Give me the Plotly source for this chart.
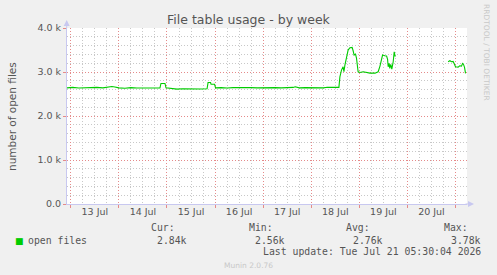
import plotly.graph_objects as go
from datetime import datetime, timedelta

# ---- data ----
times = [
    "2026-07-12 22:00", "2026-07-13 01:00", "2026-07-13 04:00", "2026-07-13 07:00",
    "2026-07-13 10:00", "2026-07-13 13:00", "2026-07-13 16:00", "2026-07-13 19:00",
    "2026-07-13 20:30", "2026-07-13 22:00", "2026-07-14 00:00", "2026-07-14 03:00",
    "2026-07-14 06:00", "2026-07-14 09:00", "2026-07-14 12:00", "2026-07-14 15:00",
    "2026-07-14 18:00", "2026-07-14 20:30", "2026-07-14 21:00", "2026-07-14 23:00",
    "2026-07-14 23:30", "2026-07-15 02:00", "2026-07-15 05:00", "2026-07-15 08:00",
    "2026-07-15 11:00", "2026-07-15 14:00", "2026-07-15 17:00", "2026-07-15 20:00",
    "2026-07-15 20:30", "2026-07-15 21:45", "2026-07-15 22:00", "2026-07-15 23:45",
    "2026-07-16 00:15", "2026-07-16 03:00", "2026-07-16 06:00", "2026-07-16 09:00",
    "2026-07-16 12:00", "2026-07-16 15:00", "2026-07-16 18:00", "2026-07-16 21:00",
    "2026-07-17 00:00", "2026-07-17 03:00", "2026-07-17 06:00", "2026-07-17 09:00",
    "2026-07-17 12:00", "2026-07-17 15:00", "2026-07-17 16:00", "2026-07-17 18:00",
    "2026-07-17 21:00", "2026-07-18 00:00", "2026-07-18 03:00", "2026-07-18 06:00",
    "2026-07-18 08:00", "2026-07-18 11:00", "2026-07-18 13:48",
    "2026-07-18 14:18", "2026-07-18 15:06", "2026-07-18 15:54", "2026-07-18 16:18",
    "2026-07-18 16:48", "2026-07-18 17:36", "2026-07-18 18:24", "2026-07-18 19:18",
    "2026-07-18 20:24", "2026-07-18 20:54", "2026-07-18 21:24", "2026-07-18 22:06",
    "2026-07-18 22:36", "2026-07-18 23:24", "2026-07-19 00:18", "2026-07-19 01:54",
    "2026-07-19 03:36", "2026-07-19 05:18", "2026-07-19 07:48", "2026-07-19 08:36",
    "2026-07-19 09:24", "2026-07-19 10:18", "2026-07-19 11:06", "2026-07-19 11:36",
    "2026-07-19 12:42", "2026-07-19 13:36", "2026-07-19 14:06", "2026-07-19 14:24",
    "2026-07-19 14:54", "2026-07-19 15:12", "2026-07-19 15:42", "2026-07-19 16:12",
    "2026-07-19 16:54", "2026-07-19 17:24", "2026-07-19 17:54",
    "2026-07-20 06:00",
    "2026-07-20 20:18", "2026-07-20 21:12", "2026-07-20 22:00", "2026-07-20 22:48",
    "2026-07-20 23:18", "2026-07-21 00:00", "2026-07-21 01:18", "2026-07-21 02:06",
    "2026-07-21 03:00", "2026-07-21 03:30", "2026-07-21 04:00", "2026-07-21 04:30",
    "2026-07-21 05:00",
]
open_files = [
    2640, 2650, 2635, 2645,
    2640, 2650, 2640, 2655,
    2670, 2660, 2640, 2630,
    2645, 2635, 2640, 2635,
    2640, 2640, 2740, 2740,
    2640, 2625, 2610, 2620,
    2615, 2620, 2615, 2620,
    2760, 2760, 2720, 2720,
    2640, 2645, 2635, 2645,
    2650, 2640, 2645, 2640,
    2645, 2635, 2645, 2640,
    2640, 2650, 2665, 2640,
    2645, 2640, 2645, 2640,
    2655, 2660, 2650,
    2890, 3043, 3119, 3005,
    3157, 3309, 3499, 3552,
    3559, 3483, 3385, 3407,
    3309, 3005, 2990, 3005,
    2982, 2974, 2974, 2997,
    3005, 3134, 3271, 3385,
    3369, 3362, 3286, 3119,
    3195, 3081, 3172, 3066,
    3233, 3460, 3347,
    None,
    3233, 3256, 3233, 3241,
    3195, 3119, 3112, 3142,
    3134, 3195, 3172, 3104,
    2967,
]

day_ticks = ["2026-07-13 12:00", "2026-07-14 12:00", "2026-07-15 12:00", "2026-07-16 12:00",
             "2026-07-17 12:00", "2026-07-18 12:00", "2026-07-19 12:00", "2026-07-20 12:00"]
day_labels = ["13 Jul", "14 Jul", "15 Jul", "16 Jul", "17 Jul", "18 Jul", "19 Jul", "20 Jul"]
y_ticks = [0, 1000, 2000, 3000, 4000]
y_labels = ["0.0", "1.0 k", "2.0 k", "3.0 k", "4.0 k"]

series_name = "open files"
stats_head = ["Cur:", "Min:", "Avg:", "Max:"]
stats_vals = ["2.84k", "2.56k", "2.76k", "3.78k"]
last_update = "Last update: Tue Jul 21 05:30:04 2026"

# ---- layout geometry ----
W, H = 497, 275
L, R, T, B = 67, 30, 28, 71
PW, PH = W - L - R, H - T - B
x_range = ["2026-07-12 22:06", "2026-07-21 05:44"]

t0 = datetime(2026, 7, 12, 0, 0)
major_x = [(t0 + timedelta(days=d)).strftime("%Y-%m-%d %H:%M") for d in range(0, 11)]
minor_x = [(t0 + timedelta(hours=h)).strftime("%Y-%m-%d %H:%M")
           for h in range(0, 240, 6) if h % 24 != 0]
minor_y = [v for v in range(0, 4001, 200) if v % 1000 != 0]

def px(x):
    return (x - L) / PW

def py(y):
    return (H - B - y) / PH

GREEN = "#00CC00"
TXT = "#555555"
MGRID = "#E58A8A"
GRID = "#C8C8C8"
AXIS = "#C8C8F0"
DASH = "1px,2px"

fig = go.Figure()
fig.add_trace(go.Scatter(
    x=times, y=open_files, mode="lines", name=series_name,
    line=dict(color=GREEN, width=1.1), connectgaps=False,
    xaxis="x", yaxis="y", showlegend=False,
))
fig.add_trace(go.Scatter(x=x_range, y=[None, None], mode="lines", xaxis="x2", yaxis="y",
                         showlegend=False, hoverinfo="skip"))

fig.update_layout(
    width=W, height=H,
    margin=dict(l=L, r=R, t=T, b=B, pad=0),
    paper_bgcolor="#F0F0F0", plot_bgcolor="#FFFFFF",
    font=dict(family="DejaVu Sans", color=TXT, size=9.5),
    xaxis=dict(
        range=x_range, type="date",
        tickmode="array", tickvals=major_x,
        showticklabels=False,
        showgrid=True, gridcolor=MGRID, griddash=DASH, gridwidth=1,
        ticks="outside", ticklen=3, tickcolor=MGRID,
        showline=True, linecolor=AXIS, linewidth=1,
        zeroline=False,
        minor=dict(tickmode="array", tickvals=minor_x, showgrid=True,
                   gridcolor=GRID, griddash=DASH, gridwidth=1, ticks=""),
    ),
    xaxis2=dict(
        range=x_range, type="date", overlaying="x", side="bottom",
        tickmode="array", tickvals=day_ticks, ticktext=day_labels,
        showgrid=False, ticks="", showline=False, zeroline=False,
        tickfont=dict(family="DejaVu Sans", size=9.5, color=TXT),
    ),
    yaxis=dict(
        range=[0, 4000], tickmode="array", tickvals=y_ticks, ticktext=y_labels,
        showgrid=True, gridcolor=MGRID, griddash=DASH, gridwidth=1,
        ticks="outside", ticklen=3, tickcolor=MGRID,
        showline=True, linecolor=AXIS, linewidth=1, zeroline=False,
        tickfont=dict(family="DejaVu Sans", size=9.5, color=TXT),
        minor=dict(tickmode="array", tickvals=minor_y, showgrid=True, gridcolor=GRID,
                   griddash=DASH, gridwidth=1, ticks=""),
    ),
    showlegend=False,
)

ann = []
ann.append(dict(text="File table usage - by week", xref="paper", yref="paper",
                x=px(248.5), y=py(19), xanchor="center", yanchor="middle", showarrow=False,
                font=dict(family="DejaVu Sans", size=12.5, color=TXT)))
ann.append(dict(text="number of open files", xref="paper", yref="paper",
                x=px(12), y=py(116), xanchor="center", yanchor="middle", textangle=-90,
                showarrow=False, font=dict(family="DejaVu Sans", size=10.5, color=TXT)))
ann.append(dict(text="RRDTOOL / TOBI OETIKER", xref="paper", yref="paper",
                x=px(487), y=py(52), xanchor="center", yanchor="middle", textangle=90,
                showarrow=False, font=dict(family="DejaVu Sans", size=7.5, color="#C8C8C8")))
ann.append(dict(text="", xref="paper", yref="paper", x=px(66.7), y=py(20),
                ax=0, ay=10, showarrow=True, arrowhead=2, arrowsize=1.2, arrowwidth=1,
                arrowcolor=AXIS))
ann.append(dict(text="", xref="paper", yref="paper", x=px(474), y=py(204),
                ax=-10, ay=0, showarrow=True, arrowhead=2, arrowsize=1.2, arrowwidth=1,
                arrowcolor=AXIS))
MONO = "DejaVu Sans Mono"
ann.append(dict(text="■", xref="paper", yref="paper", x=px(13), y=py(240.5),
                xanchor="left", yanchor="middle", showarrow=False,
                font=dict(family="DejaVu Sans", size=9, color=GREEN)))
ann.append(dict(text=series_name, xref="paper", yref="paper", x=px(26), y=py(240),
                xanchor="left", yanchor="middle", showarrow=False,
                font=dict(family=MONO, size=9.8, color=TXT)))
head_right = [177, 275, 372, 470]
val_right = [189, 287, 385, 483]
for h, v, hr, vr in zip(stats_head, stats_vals, head_right, val_right):
    ann.append(dict(text=h, xref="paper", yref="paper", x=px(hr), y=py(228),
                    xanchor="right", yanchor="middle", showarrow=False,
                    font=dict(family=MONO, size=9.8, color=TXT)))
    ann.append(dict(text=v, xref="paper", yref="paper", x=px(vr), y=py(240),
                    xanchor="right", yanchor="middle", showarrow=False,
                    font=dict(family=MONO, size=9.8, color=TXT)))
ann.append(dict(text=last_update, xref="paper", yref="paper", x=px(483), y=py(251.5),
                xanchor="right", yanchor="middle", showarrow=False,
                font=dict(family=MONO, size=9.8, color=TXT)))
ann.append(dict(text="Munin 2.0.76", xref="paper", yref="paper", x=px(248), y=py(265),
                xanchor="center", yanchor="middle", showarrow=False,
                font=dict(family="DejaVu Sans", size=7.5, color="#C8C8C8")))
fig.update_layout(annotations=ann)

fig.write_html("out.html")
